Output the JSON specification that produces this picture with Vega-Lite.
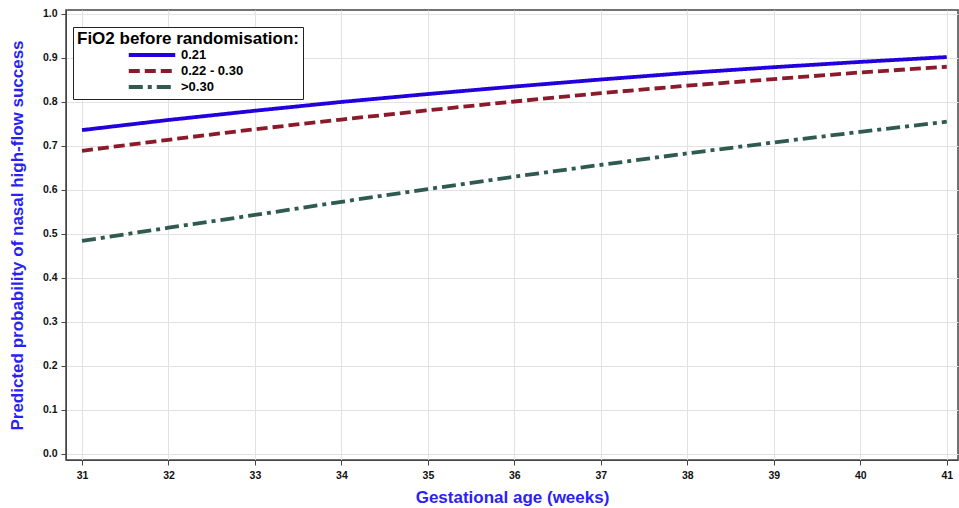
{
  "$schema": "https://vega.github.io/schema/vega-lite/v6.json",
  "width": 892,
  "height": 450,
  "autosize": "none",
  "padding": {"left": 66, "top": 10, "right": 1, "bottom": 48},
  "background": "white",
  "config": {
    "font": "Liberation Sans",
    "view": {"stroke": "#444444", "strokeWidth": 1.5},
    "axis": {
      "labelFont": "Liberation Sans",
      "labelFontWeight": "bold",
      "labelFontSize": 10.5,
      "labelColor": "#111111",
      "titleFont": "Liberation Sans",
      "titleFontWeight": "bold",
      "titleFontSize": 17,
      "titleColor": "#2a1ff5",
      "gridColor": "#e2e2e2",
      "gridWidth": 1,
      "domainColor": "#444444",
      "tickColor": "#444444",
      "tickSize": 5
    }
  },
  "data": {
    "values": [
      {"ga": 31, "grp": "0.21", "p": 0.736},
      {"ga": 32, "grp": "0.21", "p": 0.759},
      {"ga": 33, "grp": "0.21", "p": 0.780},
      {"ga": 34, "grp": "0.21", "p": 0.800},
      {"ga": 35, "grp": "0.21", "p": 0.818},
      {"ga": 36, "grp": "0.21", "p": 0.835},
      {"ga": 37, "grp": "0.21", "p": 0.851},
      {"ga": 38, "grp": "0.21", "p": 0.866},
      {"ga": 39, "grp": "0.21", "p": 0.879},
      {"ga": 40, "grp": "0.21", "p": 0.891},
      {"ga": 41, "grp": "0.21", "p": 0.902},
      {"ga": 31, "grp": "0.22 - 0.30", "p": 0.689},
      {"ga": 32, "grp": "0.22 - 0.30", "p": 0.714},
      {"ga": 33, "grp": "0.22 - 0.30", "p": 0.738},
      {"ga": 34, "grp": "0.22 - 0.30", "p": 0.760},
      {"ga": 35, "grp": "0.22 - 0.30", "p": 0.781},
      {"ga": 36, "grp": "0.22 - 0.30", "p": 0.801},
      {"ga": 37, "grp": "0.22 - 0.30", "p": 0.820},
      {"ga": 38, "grp": "0.22 - 0.30", "p": 0.837},
      {"ga": 39, "grp": "0.22 - 0.30", "p": 0.852},
      {"ga": 40, "grp": "0.22 - 0.30", "p": 0.867},
      {"ga": 41, "grp": "0.22 - 0.30", "p": 0.880},
      {"ga": 31, "grp": ">0.30", "p": 0.484},
      {"ga": 32, "grp": ">0.30", "p": 0.514},
      {"ga": 33, "grp": ">0.30", "p": 0.543},
      {"ga": 34, "grp": ">0.30", "p": 0.573},
      {"ga": 35, "grp": ">0.30", "p": 0.602},
      {"ga": 36, "grp": ">0.30", "p": 0.630},
      {"ga": 37, "grp": ">0.30", "p": 0.657},
      {"ga": 38, "grp": ">0.30", "p": 0.683},
      {"ga": 39, "grp": ">0.30", "p": 0.708},
      {"ga": 40, "grp": ">0.30", "p": 0.732},
      {"ga": 41, "grp": ">0.30", "p": 0.755}
    ]
  },
  "mark": {"type": "line", "strokeWidth": 3.8, "clip": true},
  "encoding": {
    "x": {
      "field": "ga", "type": "quantitative",
      "scale": {"domain": [30.815, 41.13], "nice": false, "zero": false},
      "axis": {"values": [31,32,33,34,35,36,37,38,39,40,41], "title": "Gestational age (weeks)", "titlePadding": 9, "labelPadding": 5}
    },
    "y": {
      "field": "p", "type": "quantitative",
      "scale": {"domain": [-0.014, 1.009], "nice": false, "zero": false},
      "axis": {"values": [0,0.1,0.2,0.3,0.4,0.5,0.6,0.7,0.8,0.9,1.0], "format": ".1f", "title": "Predicted probability of nasal high-flow success", "titlePadding": 16, "labelPadding": 4}
    },
    "color": {
      "field": "grp", "type": "nominal",
      "scale": {"domain": ["0.21", "0.22 - 0.30", ">0.30"], "range": ["#2200dd", "#8b1a2a", "#2f5a4f"]},
      "legend": {
        "title": "FiO2 before randomisation:",
        "orient": "none",
        "legendX": 7,
        "legendY": 17,
        "titleFontSize": 17,
        "titleFontWeight": "bold",
        "titleColor": "#000000",
        "titleLimit": 400,
        "labelFontSize": 13,
        "labelFontWeight": "bold",
        "labelColor": "#000000",
        "symbolType": "M-4,0H4",
        "symbolStrokeWidth": 3.8,
        "symbolSize": 135,
        "symbolOffset": 67,
        "strokeColor": "#222222",
        "fillColor": "white",
        "padding": 4,
        "rowPadding": 0,
        "titlePadding": -1,
        "labelOffset": 21
      }
    },
    "strokeDash": {
      "field": "grp", "type": "nominal",
      "scale": {"domain": ["0.21", "0.22 - 0.30", ">0.30"], "range": [[1, 0], [11, 5], [14, 5, 4, 5]]},
      "legend": {
        "title": "FiO2 before randomisation:"
      }
    }
  }
}
